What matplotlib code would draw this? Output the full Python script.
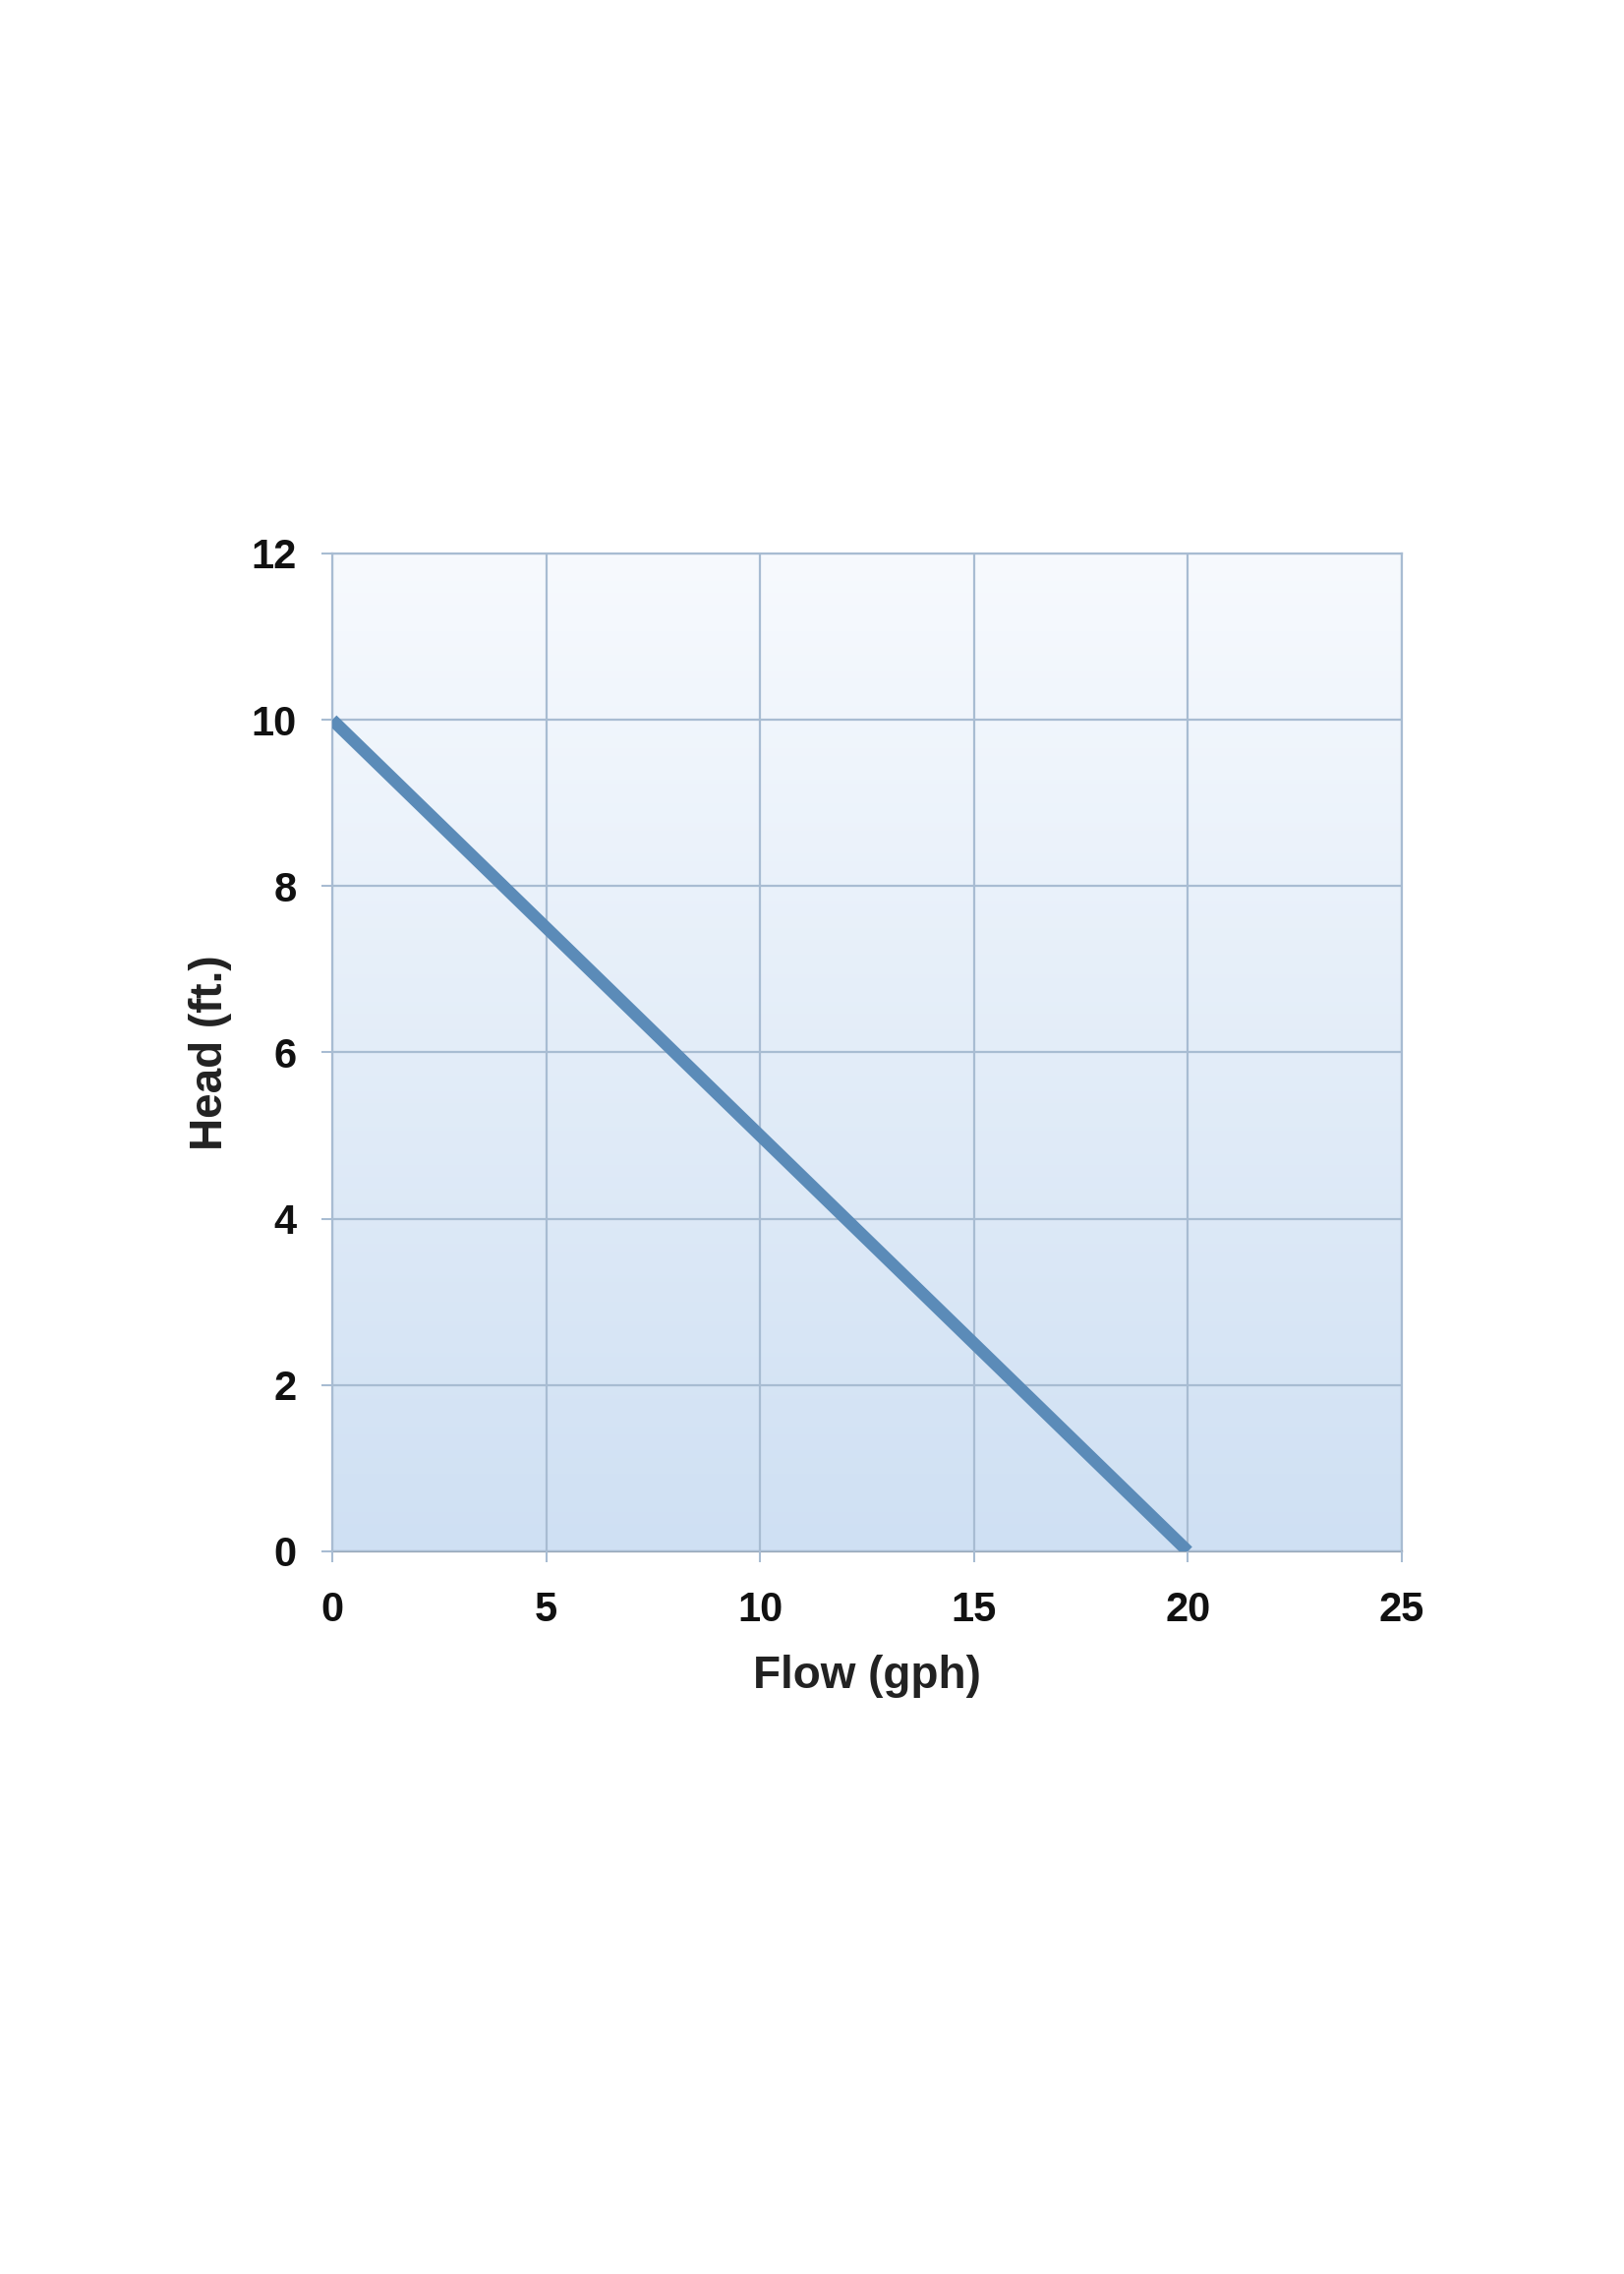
import numpy as np
import matplotlib.pyplot as plt
from matplotlib.colors import LinearSegmentedColormap

### Datos ###
flow = [0, 20]
head = [10, 0]
xticks = [0, 5, 10, 15, 20, 25]
yticks = [0, 2, 4, 6, 8, 10, 12]

plt.rcParams['font.family'] = ['Liberation Sans', 'DejaVu Sans']

fig = plt.figure(figsize=(16.52, 23.13), dpi=100)
ax = fig.add_axes([0.2046, 0.3178, 0.6586, 0.4388])

# Fondo degradado
cmap = LinearSegmentedColormap.from_list('fondo', ['#cfe0f3', '#f7fafe'])
grad = np.linspace(0, 1, 256).reshape(-1, 1)
ax.imshow(grad, aspect='auto', cmap=cmap, origin='lower',
          extent=[0, 25, 0, 12], zorder=0)

ax.plot(flow, head, color='#5b8bb8', linewidth=9, solid_capstyle='butt', zorder=3)

ax.set_xlim(0, 25)
ax.set_ylim(0, 12)
ax.set_xticks(xticks)
ax.set_yticks(yticks)
ax.grid(True, color='#a8bcd2', linewidth=1.6, zorder=1)
ax.set_axisbelow(False)
for s in ax.spines.values():
    s.set_color('#a8bcd2')
    s.set_linewidth(1.6)
ax.spines['bottom'].set_color('#9aa8b8')
ax.tick_params(colors='#a8bcd2', length=8, width=1.5, labelcolor='#111111',
               labelsize=30)
ax.tick_params(axis='x', pad=21)
ax.tick_params(axis='y', pad=18)
for lab in ax.get_xticklabels() + ax.get_yticklabels():
    lab.set_fontweight('bold')

ax.set_xlabel('Flow (gph)', fontsize=33, fontweight='bold', color='#222222', labelpad=18)
ax.set_ylabel('Head (ft.)', fontsize=33, fontweight='bold', color='#222222', labelpad=14)

fig.savefig('out.png', dpi=100, facecolor='white')
